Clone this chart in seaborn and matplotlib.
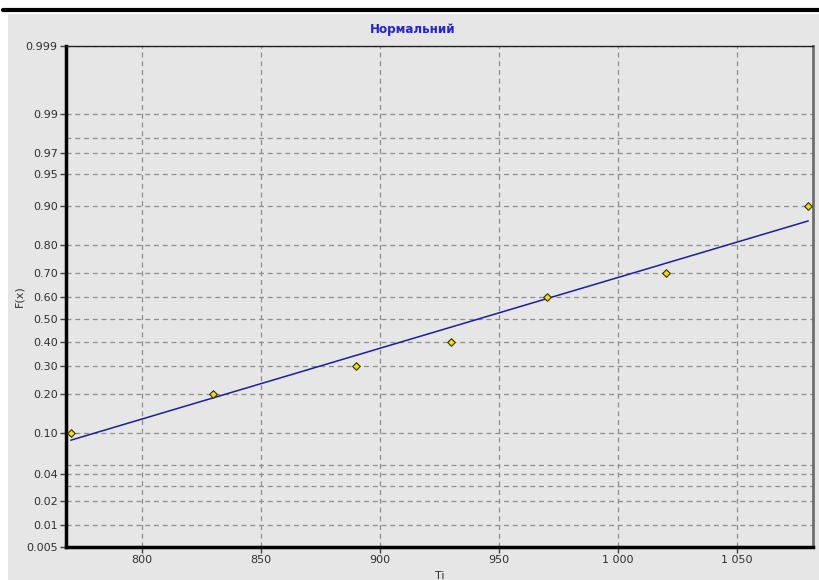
import math
import numpy as np
import pandas as pd
import seaborn as sns
import matplotlib
matplotlib.use("Agg")
import matplotlib.pyplot as plt
from matplotlib.ticker import FixedLocator, FixedFormatter
from matplotlib.patches import Rectangle
from matplotlib.lines import Line2D

# Observed values and their empirical probabilities
ti_values = [770, 830, 890, 930, 970, 1020, 1080]
fx_values = [0.10, 0.20, 0.30, 0.40, 0.60, 0.70, 0.90]

# Fitted normal distribution
fit_mean = 941.0
fit_sigma = 125.0

# Probability axis ticks
y_major = [0.005, 0.01, 0.02, 0.04, 0.10, 0.20, 0.30, 0.40, 0.50,
           0.60, 0.70, 0.80, 0.90, 0.95, 0.97, 0.99, 0.999]
y_labels = ["0.005", "0.01", "0.02", "0.04", "0.10", "0.20", "0.30", "0.40", "0.50",
            "0.60", "0.70", "0.80", "0.90", "0.95", "0.97", "0.99", "0.999"]
y_minor = [0.03, 0.05, 0.98]
x_major = [800, 850, 900, 950, 1000, 1050]
x_labels = ["800", "850", "900", "950", "1 000", "1 050"]


def norm_cdf(z):
    z = np.asarray(z, dtype=float)
    return 0.5 * (1.0 + np.vectorize(math.erf)(z / math.sqrt(2.0)))


def norm_ppf(p):
    # Acklam's rational approximation of the inverse normal CDF
    p = np.clip(np.asarray(p, dtype=float), 1e-12, 1 - 1e-12)
    a = [-3.969683028665376e+01, 2.209460984245205e+02, -2.759285104469687e+02,
         1.383577518672690e+02, -3.066479806614716e+01, 2.506628277459239e+00]
    b = [-5.447609879822406e+01, 1.615858368580409e+02, -1.556989798598866e+02,
         6.680131188771972e+01, -1.328068155288572e+01]
    c = [-7.784894002430293e-03, -3.223964580411365e-01, -2.400758277161838e+00,
         -2.549732539343734e+00, 4.374664141464968e+00, 2.938163982698783e+00]
    d = [7.784695709041462e-03, 3.224671290700398e-01, 2.445134137142996e+00,
         3.754408661907416e+00]
    plow, phigh = 0.02425, 1 - 0.02425
    out = np.empty_like(p)
    lo = p < plow
    hi = p > phigh
    mid = ~(lo | hi)
    q = np.sqrt(-2 * np.log(p[lo]))
    out[lo] = (((((c[0]*q+c[1])*q+c[2])*q+c[3])*q+c[4])*q+c[5]) / \
              ((((d[0]*q+d[1])*q+d[2])*q+d[3])*q+1)
    q = np.sqrt(-2 * np.log(1 - p[hi]))
    out[hi] = -(((((c[0]*q+c[1])*q+c[2])*q+c[3])*q+c[4])*q+c[5]) / \
               ((((d[0]*q+d[1])*q+d[2])*q+d[3])*q+1)
    q = p[mid] - 0.5
    r = q * q
    out[mid] = (((((a[0]*r+a[1])*r+a[2])*r+a[3])*r+a[4])*r+a[5])*q / \
               (((((b[0]*r+b[1])*r+b[2])*r+b[3])*r+b[4])*r+1)
    return out


points = pd.DataFrame({"Ti": ti_values, "F": fx_values})
x_fit = np.linspace(min(ti_values), max(ti_values), 200)
fit = pd.DataFrame({"Ti": x_fit, "F": norm_cdf((x_fit - fit_mean) / fit_sigma)})

sns.set_theme(style="white")
plt.rcParams["font.family"] = ["DejaVu Sans"]

panel = "#e6e6e6"
fig = plt.figure(figsize=(8.2, 5.8), dpi=100, facecolor="white")
fig.patches.append(Rectangle((8 / 820, 0), 1 - 8 / 820, 566 / 580,
                             transform=fig.transFigure, facecolor=panel,
                             edgecolor="none", zorder=-10))
fig.lines.append(Line2D([3 / 820, 1.0], [1 - 10 / 580, 1 - 10 / 580],
                        transform=fig.transFigure, color="black", lw=3))

ax = fig.add_axes([66 / 820, 33 / 580, 747 / 820, 501 / 580])
ax.set_facecolor(panel)
ax.set_yscale("function", functions=(norm_ppf, norm_cdf))

sns.lineplot(data=fit, x="Ti", y="F", ax=ax, color="#1c1ca6", lw=1.1, zorder=3)
sns.scatterplot(data=points, x="Ti", y="F", ax=ax, marker="D", s=15,
                color="#f0e000", edgecolor="#303000", linewidth=0.8, zorder=4)

ax.set_xlim(768, 1082)
ax.set_ylim(0.005, 0.999)

ax.yaxis.set_major_locator(FixedLocator(y_major))
ax.yaxis.set_major_formatter(FixedFormatter(y_labels))
ax.yaxis.set_minor_locator(FixedLocator(y_minor))
ax.xaxis.set_major_locator(FixedLocator(x_major))
ax.xaxis.set_major_formatter(FixedFormatter(x_labels))
ax.xaxis.set_minor_locator(FixedLocator(list(range(770, 1090, 10))))

grid_kw = dict(color="#8e8e8e", linestyle=(0, (4, 3)), linewidth=0.9)
ax.grid(True, which="major", axis="both", **grid_kw)
ax.grid(True, which="minor", axis="y", **grid_kw)
ax.set_axisbelow(True)

ax.tick_params(axis="both", which="major", direction="out", length=4, width=1,
               color="#404040", labelsize=8, labelcolor="#303030", pad=2)
ax.tick_params(axis="x", which="minor", direction="out", length=3, width=0.8,
               color="#404040")
ax.tick_params(axis="y", which="minor", length=0)
ax.tick_params(bottom=True, left=True)

for side in ("left", "bottom"):
    ax.spines[side].set_color("black")
    ax.spines[side].set_linewidth(2.5)
ax.spines["top"].set_color("#202020")
ax.spines["top"].set_linewidth(1.0)
ax.spines["right"].set_color("#6e6e6e")
ax.spines["right"].set_linewidth(2.0)

ax.set_xlabel("Ti", fontsize=8, color="#303030", labelpad=4)
ax.set_ylabel("F(x)", fontsize=8, color="#303030", labelpad=1)

# Chart title, centred on the grey panel
fig.text(413 / 820, 1 - 30 / 580, "Нормальний", ha="center", va="center",
         fontsize=9.5, fontweight="bold", color="#2323d8",
         fontstretch="condensed")

fig.savefig("out.png", dpi=100, facecolor="white")
